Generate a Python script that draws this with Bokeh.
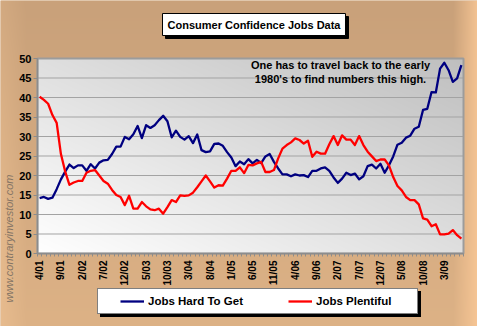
import numpy as np
from math import pi
from bokeh.plotting import figure
from bokeh.models import Range1d, FixedTicker, Label, Legend, LegendItem, LinearAxis
from bokeh.embed import file_html
from bokeh.resources import INLINE

# ---- data (monthly, 4/01 .. 7/09) ----
categories = [f"{(3 + k) % 12 + 1}/{1 + (3 + k) // 12:02d}" for k in range(100)]

tick_labels = ["4/01", "9/01", "2/02", "7/02", "12/02", "5/03", "10/03", "3/04", "8/04", "1/05",
               "6/05", "11/05", "4/06", "9/06", "2/07", "7/07", "12/07", "5/08", "10/08", "3/09"]

y_ticks = [0, 5, 10, 15, 20, 25, 30, 35, 40, 45, 50]

jobs_hard_to_get = [
    14.2, 14.5, 14.0, 14.3, 16.5, 19.0, 21.0, 22.8, 21.9, 22.6,
    22.6, 21.2, 22.9, 21.8, 23.3, 23.9, 24.0, 25.5, 27.4, 27.4,
    29.9, 29.3, 30.6, 32.7, 29.6, 32.9, 32.2, 32.9, 34.2, 35.3,
    33.9, 29.8, 31.5, 29.9, 29.2, 30.1, 28.3, 30.5, 26.5, 26.0,
    26.2, 28.1, 28.2, 27.6, 26.0, 24.6, 22.4, 23.6, 22.9, 24.2,
    23.1, 24.0, 23.2, 24.9, 25.5, 23.5, 21.8, 20.3, 20.3, 19.8,
    20.3, 20.0, 20.1, 19.6, 21.2, 21.2, 21.8, 22.1, 21.2, 19.5,
    18.1, 19.2, 20.7, 20.1, 20.5, 19.0, 19.8, 22.4, 22.8, 21.8,
    23.0, 20.7, 22.6, 24.9, 27.9, 28.4, 29.7, 30.2, 32.0, 32.5,
    36.8, 37.1, 41.4, 41.3, 47.4, 48.9, 47.0, 44.0, 44.9, 48.3,
]

jobs_plentiful = [
    40.2, 39.4, 38.4, 35.5, 33.5, 25.5, 21.0, 17.6, 18.2, 18.6,
    18.6, 20.7, 21.2, 21.4, 20.0, 18.6, 17.9, 16.3, 15.0, 14.5,
    12.4, 14.8, 11.5, 11.5, 13.2, 12.1, 11.3, 11.1, 11.5, 10.2,
    11.9, 13.7, 13.2, 14.9, 14.8, 14.9, 15.6, 17.0, 18.5, 20.0,
    18.5, 16.9, 17.5, 17.4, 19.2, 21.2, 21.2, 22.1, 20.6, 22.7,
    22.6, 23.1, 23.5, 20.9, 20.9, 21.4, 24.4, 26.9, 27.8, 28.5,
    29.5, 29.1, 28.2, 28.9, 24.8, 26.1, 25.6, 25.6, 28.0, 30.1,
    27.8, 30.3, 29.2, 29.2, 27.8, 30.1, 27.8, 26.1, 24.9, 23.7,
    24.1, 24.1, 22.6, 19.6, 17.3, 16.2, 14.5, 13.7, 13.7, 12.6,
    9.0, 8.7, 7.0, 7.5, 4.9, 4.9, 5.1, 6.0, 4.7, 3.8,
]

title_text = "Consumer Confidence Jobs Data"
note_lines = ["One has to travel back to the early", "1980's to find numbers this high."]
watermark = "www.contraryinvestor.com"
series_names = ["Jobs Hard To Get", "Jobs Plentiful"]

# ---- layout (pixels): the frame covers the whole canvas ----
CW, CH = 477, 326
FL, FR, FT, FB = 37, 463, 58, 253   # plot area
N = len(categories)
YMAX = 50


def dx(px):
    return -0.5 + (px - FL) / (FR - FL) * N


def dy(py):
    return (FB - py) / (FB - FT) * YMAX


FONT = "Liberation Sans"

p = figure(frame_width=CW, frame_height=CH, min_border=0,
           x_range=Range1d(dx(0), dx(CW)), y_range=Range1d(dy(CH), dy(0)),
           x_axis_type=None, y_axis_type=None,
           output_backend="svg", toolbar_location=None)
p.outline_line_color = None
p.border_fill_color = "#D3A97F"
p.background_fill_color = "#D3A97F"
p.xgrid.visible = False
p.ygrid.visible = False

# canvas background gradient (tan, lighter toward the edges / bottom)
ys = np.arange(CH)[::-1][:, None].astype(float)   # row 0 = bottom of canvas
xs_px = np.arange(CW)[None, :].astype(float)
t = ys / CH
top_c = np.array([201, 161, 122], float)
bot_c = np.array([221, 178, 134], float)
col = top_c[None, None, :] * (1 - t[..., None]) + bot_c[None, None, :] * t[..., None]
col = np.broadcast_to(col, (CH, CW, 3)).copy()
s_r = np.clip((xs_px - 452) / 25, 0, 1)[..., None] * 0.85
col = col * (1 - s_r) + np.array([252, 202, 152], float) * s_r
s_l = (np.clip((26 - xs_px) / 26, 0, 1) * (0.4 + 0.6 * t))[..., None] * 0.7
col = col * (1 - s_l) + np.array([236, 192, 146], float) * s_l
col = col.astype(np.uint32)
canvas_img = (255 << 24) | (col[..., 2] << 16) | (col[..., 1] << 8) | col[..., 0]
r_cbg = p.image_rgba(image=[canvas_img.astype(np.uint32)], x=dx(0), y=dy(CH),
                     dw=dx(CW) - dx(0), dh=dy(0) - dy(CH))
r_cbg.level = "image"

# plot-area gradient (white bottom-left -> grey top-right)
PH, PW = FB - FT, FR - FL
u = np.linspace(0, 1, PW)[None, :]
v = np.linspace(0, 1, PH)[:, None]
g = (255 - 64 * (u + v) / 2).astype(np.uint32)
plot_img = (255 << 24) | (g << 16) | (g << 8) | g
r_pbg = p.image_rgba(image=[plot_img.astype(np.uint32)], x=-0.5, y=0, dw=N, dh=YMAX)
r_pbg.level = "image"

# horizontal gridlines
p.segment(x0=[-0.5] * (len(y_ticks) - 2), x1=[N - 0.5] * (len(y_ticks) - 2),
          y0=y_ticks[1:-1], y1=y_ticks[1:-1], line_color="#A3A3A3", line_width=1)

# plot-area border
p.quad(left=[-0.5], right=[N - 0.5], bottom=[0], top=[YMAX],
       fill_color=None, line_color="#9C9C9C", line_width=2)

# axes, fixed at the plot-area edges
label_pos = [categories.index(t_) for t_ in tick_labels]
xaxis = LinearAxis(fixed_location=0, bounds=(-0.5, N - 0.5),
                   ticker=FixedTicker(ticks=label_pos, minor_ticks=[i - 0.5 for i in range(N + 1)]))
xaxis.major_label_overrides = {i: t_ for i, t_ in zip(label_pos, tick_labels)}
xaxis.major_label_orientation = pi / 2
xaxis.major_tick_out = 0
xaxis.major_tick_in = 0
xaxis.minor_tick_out = 3
xaxis.minor_tick_in = 0
xaxis.major_label_standoff = 4
xaxis.major_label_text_font_size = "10px"

yaxis = LinearAxis(fixed_location=-0.5, bounds=(0, YMAX), ticker=FixedTicker(ticks=y_ticks))
yaxis.major_tick_out = 4
yaxis.major_tick_in = 0
yaxis.minor_tick_line_color = None
yaxis.major_label_standoff = 2
yaxis.major_label_text_font_size = "11px"

for ax in (xaxis, yaxis):
    ax.axis_line_color = "#8C8C8C"
    ax.axis_line_width = 1.5
    ax.major_tick_line_color = "#8C8C8C"
    ax.minor_tick_line_color = "#8C8C8C" if ax is xaxis else None
    ax.major_label_text_font = FONT
    ax.major_label_text_font_style = "bold"
    ax.major_label_text_color = "black"
p.add_layout(xaxis, "below")
p.add_layout(yaxis, "left")

# series
xs = list(range(N))
r_blue = p.line(xs, jobs_hard_to_get, line_color="#000080", line_width=2.3, line_join="round")
r_red = p.line(xs, jobs_plentiful, line_color="#FF0000", line_width=2.3, line_join="round")

# title box with drop shadow
common = dict(text=title_text, text_font=FONT, text_font_style="bold", text_font_size="11px",
              text_align="center", text_baseline="middle", padding=5)
p.add_layout(Label(x=dx(256.5), y=dy(27), text_color="black", background_fill_color="black",
                   border_line_color="black", **common))
p.add_layout(Label(x=dx(253.5), y=dy(24), text_color="black", background_fill_color="white",
                   border_line_color="black", border_line_width=1, **common))

# annotation
for txt, py in zip(note_lines, [64, 78]):
    p.add_layout(Label(x=dx(340), y=dy(py), text=txt, text_font=FONT, text_font_style="bold",
                       text_font_size="11px", text_align="center", text_baseline="middle",
                       text_color="black"))

# watermark
p.add_layout(Label(x=dx(8), y=dy(302), text=watermark, angle=pi / 2, text_font=FONT,
                   text_font_style="italic", text_font_size="11px", text_color="#857565",
                   text_align="left", text_baseline="middle"))


# legend with drop shadow (the shadow copy carries no label text)
def make_legend(shadow):
    labels = ["", ""] if shadow else series_names
    items = [LegendItem(label=labels[0], renderers=[r_blue]),
             LegendItem(label=labels[1], renderers=[r_red])]
    off = 3 if shadow else 0
    return Legend(items=items, location=(97 + off, CH - 314 - off), orientation="horizontal",
                  label_text_font=FONT, label_text_font_style="bold", label_text_font_size="11.5px",
                  label_text_color="black", glyph_width=24, glyph_height=16, label_standoff=4,
                  spacing=43, padding=4, label_width=97, label_height=16,
                  title="\u00a0", title_location="left", title_standoff=4,
                  title_text_font_size="12px",
                  border_line_color="black", border_line_width=1,
                  background_fill_color="black" if shadow else "white", background_fill_alpha=1,
                  margin=0)


p.add_layout(make_legend(True), "center")
p.add_layout(make_legend(False), "center")

open("out.html", "w").write(file_html(p, INLINE))
